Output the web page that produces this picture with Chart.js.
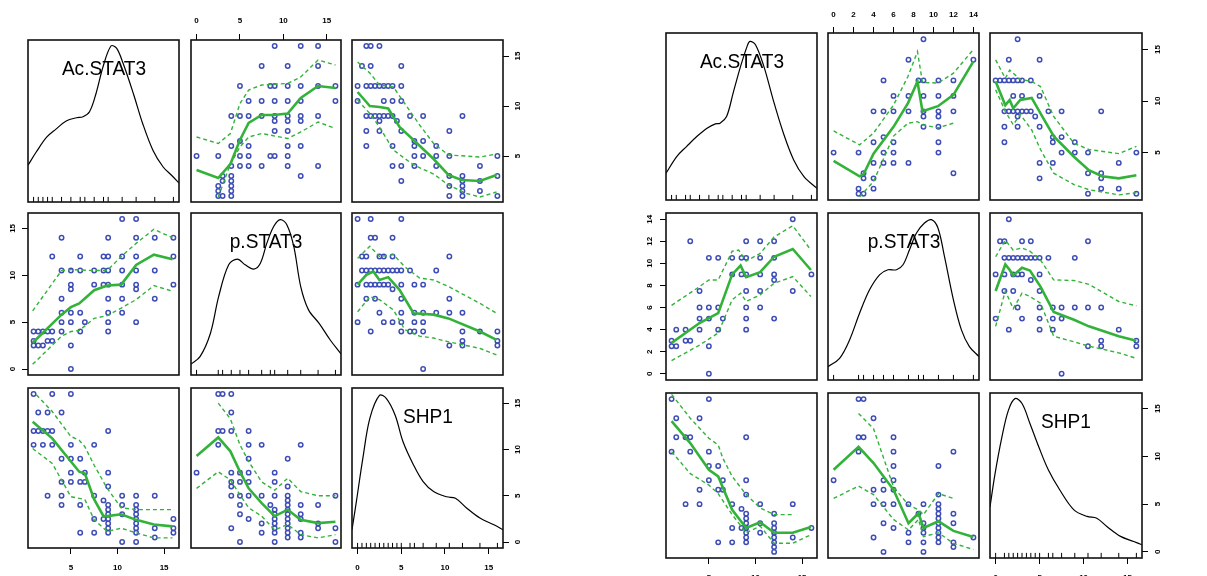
<!DOCTYPE html>
<html>
<head>
<meta charset="utf-8">
<script src="https://cdn.jsdelivr.net/npm/chart.js@4/dist/chart.umd.min.js"></script>
<style>
  html, body { margin: 0; padding: 0; background: #fff; width: 1207px; height: 576px; overflow: hidden; }
  canvas { position: absolute; }
  .lab { position: absolute; font-family: "Liberation Sans", Arial, sans-serif; font-size: 21px; color: #000;
         white-space: nowrap; transform: translate(-50%, -50%) scaleX(0.91); }
</style>
</head>
<body>
<script>
// variable names / labels
const varKeys = ['ac', 'p', 'shp'];
const varLabels = ['Ac.STAT3', 'p.STAT3', 'SHP1'];

// ---------- left matrix ----------
const leftRange = { ac: [0.4, 16.6], p: [-0.64, 16.64], shp: [-0.64, 16.64] };
const leftTicks = { ac: [5, 10, 15], p: [0, 5, 10, 15], shp: [0, 5, 10, 15] };

// [Ac.STAT3, p.STAT3]
const leftAcP = [
  [10.5,16],[12,16],
  [4,14],[9,14],[12,14],[14,14],[16,14],
  [3,12],[6,12],[8.5,12],[9,12],[10.5,12],[12,12],[16,12],
  [4,10.5],[5,10.5],[6,10.5],[7.5,10.5],[8.5,10.5],[9,10.5],[10.5,10.5],[12,10.5],[14,10.5],
  [5,9],[7.5,9],[8.5,9],[9,9],[10.5,9],[12,9],[16,9],
  [5,8.5],[12,8.5],
  [4,7.5],[9,7.5],[10.5,7.5],[14,7.5],
  [4,6],[5,6],[6,6],[9,6],[10.5,6],
  [4,5],[5,5],[6.5,5],[9,5],[12,5],
  [1,4],[1.5,4],[2,4],[2.5,4],[3,4],[4,4],[6,4],[9,4],
  [1,3],[2.5,3],[3,3],
  [1,2.5],[1.5,2.5],[2,2.5],[5,2.5],
  [5,0]
];
// [Ac.STAT3, SHP1]
const leftAcShp = [
  [1,16],[3,16],[5,16],
  [1.5,14],[2.5,14],[4,14],
  [1,12],[1.5,12],[2,12],[2.5,12],[3,12],[9,12],
  [1,10.5],[2,10.5],[3,10.5],[5,10.5],[7.5,10.5],
  [4,9],[5,9],[6,9],
  [5,7.5],[6.5,7.5],[9,7.5],
  [4,6.5],[5,6.5],[6,6.5],[6.5,6.5],
  [9,6],
  [2.5,5],[4,5],[7.5,5],[10.5,5],[12,5],[14,5],
  [8.5,4.5],
  [4,4],[6,4],[9,4],[10.5,4],[12,4],
  [9,3.5],[12,3.5],
  [9,3],[10.5,3],[12,3],
  [7.5,2.5],[8.5,2.5],[9,2.5],[12,2.5],[16,2.5],
  [9,2],[12,2],
  [9,1.5],[12,1.5],[14,1.5],[16,1.5],
  [6,1],[7.5,1],[9,1],[12,1],[16,1],
  [14,0.5],
  [10.5,0],[12,0]
];
// [p.STAT3, SHP1]
const leftPShp = [
  [2.5,16],[3,16],[4,16],
  [4,14],
  [2.5,12],[3,12],[4,12],[6,12],
  [2.5,10.5],[6,10.5],[7.5,10.5],[12,10.5],
  [6,9],[10.5,9],
  [0,7.5],[4,7.5],[5,7.5],[6,7.5],[9,7.5],
  [4,6.5],[5,6.5],[6,6.5],[9,6.5],
  [4,6],[10.5,6],
  [4,5],[5,5],[6,5],[7.5,5],[9,5],[10.5,5],[16,5],
  [10.5,4.5],
  [5,4],[8.5,4],[10.5,4],[12,4],[14,4],
  [9,3.5],[10.5,3.5],
  [5,3],[9,3],[10.5,3],[12,3],
  [6,2.5],[9,2.5],[10.5,2.5],[12,2.5],
  [7.5,2],[9,2],[10.5,2],[14,2],
  [4,1.5],[9,1.5],[10.5,1.5],[14,1.5],[16,1.5],
  [7.5,1],[9,1],[10.5,1],[12,1],
  [10.5,0.5],[12,0.5],
  [5,0],[9,0],[16,0]
];

// smoothers: y on x  (fit = solid, hi / lo = dashed spread)
const leftPonAc = {
  fit: [[0.9,2.8],[4,5.8],[5,6.6],[5.9,7.0],[7.5,8.4],[8.9,8.9],[10.4,9.0],[12,11.1],[13.9,12.2],[15.9,11.7]],
  hi:  [[0.9,6.2],[4,10.5],[5,10.6],[7.5,10.5],[8.9,10.5],[10.4,12.0],[12,13.4],[13.9,14.9],[15.9,14.0]],
  lo:  [[0.9,0.5],[4,3.5],[5,4.0],[5.9,4.1],[7.5,5.4],[8.9,5.7],[10.4,6.5],[12,7.4],[13.9,8.9],[15.9,8.3]]
};
const leftAconP = {
  fit: [[0,3.6],[2.5,2.8],[3.9,4.2],[5,6.6],[6,8.3],[7.5,9.1],[8.9,9.1],[10.5,9.25],[12,10.8],[14,12.0],[16,11.8]],
  hi:  [[0,6.9],[2.5,6.25],[3.9,7.25],[5,10.25],[6,11.6],[7.5,12.1],[10.5,12.25],[12,12.9],[14,14.6],[16,14.1]],
  lo:  [[2.5,0.9],[3.9,4.2],[5,5.9],[6,6.9],[7.5,7.25],[10.5,6.75],[12,7.4],[14,8.4],[16,7.75]]
};
const leftShpOnAc = {
  fit: [[0.9,13.0],[3,11.2],[5,8.7],[5.9,7.6],[6.5,7.4],[7.5,4.6],[8.5,2.8],[8.9,2.8],[10.4,3.0],[12,2.4],[13.9,1.9],[15.9,1.7]],
  hi:  [[1.3,15.9],[3,14.1],[5,11.4],[5.9,11.0],[6.5,10.3],[7.5,8.3],[8.9,5.8],[10.4,3.7],[12,3.5],[13.9,3.5],[15.9,3.5]],
  lo:  [[0.9,10.1],[3,8.5],[5,4.9],[6.5,4.6],[7.5,2.4],[8.9,1.15],[10.4,1.5],[12,1.0],[13.9,0.45],[15.9,0.45]]
};
const leftAcOnShp = {
  fit: [[0,11.4],[1,10.4],[1.4,10.0],[2.5,9.9],[3.5,9.75],[4.8,7.9],[6.4,6.6],[8.7,4.7],[10.4,3.1],[11.9,2.6],[14,2.5],[15.9,3.1]],
  hi:  [[0,14.4],[1.4,13.3],[2.5,12.1],[4.1,11.9],[5.4,10.25],[7.1,8.1],[8.7,6.25],[10.4,5.1],[14,4.9],[15.9,5.2]],
  lo:  [[0,10.6],[1.4,9.25],[2.5,7.9],[4.1,5.6],[6.4,4.1],[8.7,3.2],[10.4,2.1],[12.5,1.25],[14,0.9],[15.9,1.4]]
};
const leftShpOnP = {
  fit: [[0,9.3],[2.5,11.3],[3.9,9.8],[5,7.6],[6,5.8],[7.5,4.2],[9,2.8],[10.5,3.5],[12,2.4],[14,2.05],[16,2.2]],
  hi:  [[2.5,15.0],[3.9,13.3],[5,10.5],[6,8.7],[7.5,6.5],[9,5.6],[10.5,6.9],[12,5.45],[14,5.0],[16,5.0]],
  lo:  [[0,5.8],[2.5,7.6],[3.9,6.7],[5,5.1],[6,3.7],[7.5,2.8],[9,1.3],[10.5,1.9],[12,0.8],[14,0.45],[16,0.8]]
};
const leftPonShp = {
  fit: [[0,9.0],[1,10.05],[1.8,10.4],[2.5,9.5],[3.5,9.8],[4.8,8.45],[6.4,5.95],[8.7,5.8],[10.4,5.4],[14,4.0],[15.9,3.1]],
  hi:  [[0,11.8],[1.4,13.1],[2.5,12.0],[4.1,12.2],[5.4,10.9],[7.1,9.7],[8.7,9.5],[10.4,8.8],[14,7.0],[15.9,5.95]],
  lo:  [[0,6.1],[1.4,7.7],[2.5,7.4],[4.1,6.3],[5.4,4.2],[7.1,3.5],[8.7,3.3],[10.4,2.9],[14,2.2],[15.9,1.5]]
};

// diagonal densities (relative height) and rugs
const leftDensAc = [[0.4,0.227],[1.3,0.31],[2.4,0.40],[3.4,0.45],[4.5,0.50],[5.6,0.52],[6.3,0.526],[7.0,0.557],[7.7,0.67],[8.45,0.835],[9.3,0.963],[9.9,0.95],[10.6,0.856],[11.7,0.67],[12.7,0.485],[13.8,0.32],[14.9,0.216],[15.8,0.165],[16.6,0.117]];
const leftDensP = [[-0.64,0.068],[0.4,0.113],[1.6,0.258],[2.55,0.485],[3.7,0.68],[4.7,0.715],[5.6,0.68],[6.6,0.654],[7.35,0.69],[8.1,0.814],[8.9,0.918],[9.65,0.959],[10.4,0.928],[11.2,0.794],[12,0.546],[12.9,0.402],[14.1,0.32],[15.4,0.216],[16.64,0.13]];
const leftDensShp = [[-0.64,0.114],[-0.14,0.29],[0.6,0.56],[1.4,0.81],[2.5,0.954],[3.3,0.934],[4.3,0.83],[5.2,0.664],[6.4,0.519],[7.5,0.415],[8.7,0.353],[10.2,0.32],[11.2,0.311],[12.5,0.249],[14,0.187],[15.6,0.145],[16.64,0.114]];
const leftRugAc = [1,1.5,2,2.5,3,4,5,6,6.5,7.5,8.5,9,10.5,12,14,16];
const leftRugP = [0,2.5,3,4,5,6,7.5,8.5,9,10.5,12,14,16];
const leftRugShp = [0,0.5,1,1.5,2,2.5,3,3.5,4,4.5,5,6,6.5,7.5,9,10.5,12,14,16];

// ---------- right matrix ----------
const rightRange = { ac: [0.4, 16.6], p: [-0.56, 14.56], shp: [-0.64, 16.64] };
const rightTicks = { ac: [5, 10, 15], p: [0, 2, 4, 6, 8, 10, 12, 14], shp: [0, 5, 10, 15] };

const rightAcP = [
  [14,14],
  [3,12],[9,12],[10.5,12],[12,12],
  [5,10.5],[6,10.5],[7.5,10.5],[8.5,10.5],[9,10.5],[10.5,10.5],[12,10.5],
  [7.5,9],[8.5,9],[9,9],[10.5,9],[12,9],[16,9],
  [12,8.5],
  [4,7.5],[9,7.5],[10.5,7.5],[14,7.5],
  [4,6],[5,6],[6,6],[9,6],[10.5,6],
  [4,5],[5,5],[6.5,5],[9,5],[12,5],
  [1.5,4],[2.5,4],[4,4],[6,4],[9,4],
  [1,3],[2.5,3],[3,3],
  [1,2.5],[1.5,2.5],[5,2.5],
  [5,0]
];
const rightAcShp = [
  [1,16],[5,16],
  [1.5,14],[4,14],
  [1.5,12],[2.5,12],[3,12],[9,12],
  [1,10.5],[3,10.5],[5,10.5],
  [5,9],[6,9],
  [5,7.5],[6.5,7.5],[9,7.5],
  [4,6.5],[6,6.5],[6.5,6.5],
  [9,6],
  [2.5,5],[4,5],[7.5,5],[10.5,5],[14,5],
  [8.5,4.5],
  [9,4],[12,4],
  [9,3.5],
  [9,3],[10.5,3],[12,3],
  [7.5,2.5],[8.5,2.5],[9,2.5],[12,2.5],[16,2.5],
  [9,2],[10.5,2],[12,2],
  [9,1.5],[12,1.5],[14,1.5],
  [6,1],[7.5,1],[9,1],[12,1],
  [12,0.5],
  [12,0]
];
const rightPShp = [
  [2.5,16],[3,16],
  [4,14],
  [2.5,12],[3,12],[6,12],
  [2.5,10.5],[6,10.5],[12,10.5],
  [6,9],[10.5,9],
  [0,7.5],[5,7.5],[6,7.5],
  [4,6.5],[5,6.5],[6,6.5],
  [10.5,6],
  [4,5],[5,5],[6,5],[7.5,5],[9,5],[10.5,5],
  [10.5,4.5],
  [8.5,4],[10.5,4],[12,4],
  [10.5,3.5],
  [5,3],[9,3],[10.5,3],[12,3],
  [6,2.5],[9,2.5],[10.5,2.5],
  [7.5,2],[9,2],[10.5,2],
  [4,1.5],[10.5,1.5],[14,1.5],
  [7.5,1],[9,1],[10.5,1],[12,1],
  [12,0.5],
  [5,0],[9,0]
];

const rightPonAc = {
  fit: [[1,2.8],[4,4.6],[6,5.5],[7.5,9.0],[8.4,9.8],[9,8.75],[10.5,9.2],[12,10.6],[14,11.3],[15.95,9.4]],
  hi:  [[1,6.2],[4,7.9],[5,8.5],[6,8.5],[7.5,11.1],[8.2,11.2],[9,10.2],[10.5,10.9],[12,12.4],[14,13.4],[15.95,11.2]],
  lo:  [[1,1.2],[4,2.6],[6,3.7],[7.5,6.7],[8.4,7.3],[9,6.55],[10.5,7.15],[12,8.2],[14,8.8],[15.95,7.0]]
};
const rightAconP = {
  fit: [[0,4.2],[2.6,2.7],[3,2.9],[4,4.9],[6,7.5],[7.45,9.8],[8.4,11.9],[8.9,9.0],[10.45,9.5],[12,10.6],[14,13.85]],
  hi:  [[0,7.1],[2.6,5.75],[4,6.9],[6,9.6],[7.45,12.4],[8.4,14.8],[8.9,11.8],[10.45,11.75],[12,12.7],[14,15.0]],
  lo:  [[2.6,0.7],[4,2.2],[6,6.6],[7.45,7.85],[8.4,8.0],[8.9,7.7],[10.45,7.4],[12,7.85]]
};
const rightShpOnAc = {
  fit: [[1,13.7],[3,11.4],[5,8.6],[6,7.9],[7.5,4.4],[9,2.5],[10.5,3.1],[12,2.0],[14,2.0],[15.95,2.6]],
  hi:  [[1,16.5],[3,14.0],[5,11.9],[6,11.2],[6.5,9.8],[7.5,7.9],[9,6.0],[10.5,4.6],[12,3.9],[14,3.9]],
  lo:  [[1,10.5],[3,8.2],[5,7.0],[6,6.1],[7.5,3.9],[9,2.0],[10.5,2.7],[12,0.9],[14,0.9],[15.95,1.8]]
};
const rightAcOnShp = {
  fit: [[0,11.9],[1.1,9.6],[1.6,10.1],[2,9.3],[2.8,10.1],[4.1,10.3],[5.1,8.8],[6.6,6.6],[8.9,4.6],[10.6,3.3],[12.1,2.7],[14,2.5],[16,2.8]],
  hi:  [[0,14.0],[1.1,12.2],[1.6,13.0],[2.8,12.1],[4.1,11.9],[5.1,11.4],[6.6,8.5],[8.9,5.9],[10.6,5.3],[14,4.9],[16,5.6]],
  lo:  [[0,11.1],[1.1,9.0],[2,7.7],[2.8,8.7],[4.1,7.2],[5.1,5.3],[6.6,3.0],[8.9,1.9],[10.6,1.4],[14,0.9],[16,1.1]]
};
const rightShpOnP = {
  fit: [[0,8.6],[2.5,11.0],[4,9.3],[6,6.5],[7.5,3.0],[8.5,4.05],[9,2.5],[10.5,3.2],[12,2.2],[14,1.55]],
  hi:  [[2.5,14.5],[4,12.9],[6,6.8],[7.5,4.9],[8.5,4.4],[9,3.9],[10.5,6.1],[12,5.6]],
  lo:  [[0,5.6],[2.5,6.9],[4,6.0],[6,3.4],[7.5,2.3],[8.5,3.4],[9,1.6],[10.5,2.0],[12,0.9],[14,0.25]]
};
const rightPonShp = {
  fit: [[0,7.5],[1.1,9.9],[1.6,9.4],[2,8.9],[3,9.6],[3.9,9.35],[5.1,7.9],[6.6,5.6],[8.9,4.9],[10.6,4.3],[14,3.4],[16,3.0]],
  hi:  [[0,10.6],[1.1,12.1],[2,11.2],[3,11.4],[3.9,11.1],[5.1,10.3],[6.6,8.5],[8.9,8.45],[10.6,8.1],[14,6.55],[16,6.15]],
  lo:  [[0,4.3],[1.1,7.5],[2,5.9],[3,7.3],[3.9,7.0],[5.1,6.4],[6.6,3.4],[8.9,2.9],[10.6,2.5],[14,1.9],[16,1.4]]
};

const rightDensAc = [[0.4,0.16],[1.55,0.26],[2.6,0.32],[3.7,0.38],[4.8,0.43],[5.7,0.456],[6.2,0.46],[6.9,0.5],[7.6,0.64],[8.4,0.8],[9.1,0.92],[9.4,0.95],[10,0.93],[10.9,0.8],[11.9,0.6],[13,0.4],[14.1,0.24],[15.2,0.14],[16.6,0.07]];
const rightDensP = [[-0.56,0.08],[0.6,0.13],[1.6,0.24],[2.6,0.4],[3.6,0.54],[4.6,0.63],[5.45,0.66],[6.3,0.66],[6.95,0.69],[7.6,0.78],[8.3,0.88],[9.1,0.94],[9.8,0.96],[10.45,0.91],[11.1,0.74],[12,0.48],[12.8,0.3],[13.6,0.2],[14.56,0.14]];
const rightDensShp = [[-0.64,0.31],[-0.07,0.51],[0.7,0.73],[1.45,0.895],[2.2,0.966],[3,0.936],[3.9,0.815],[4.9,0.674],[6,0.533],[7.3,0.412],[8.9,0.292],[10.4,0.252],[11.5,0.241],[12.65,0.191],[14.2,0.131],[15.7,0.1],[16.64,0.08]];
const rightRugAc = [1,1.5,2.5,3,4,5,6,6.5,7.5,8.5,9,10.5,12,14,16];
const rightRugP = [0,2.5,3,4,5,6,7.5,8.5,9,10.5,12,14];
const rightRugShp = [0,1,1.5,2,2.5,3,3.5,4,4.5,5,6,6.5,7.5,9,10.5,12,14,16];

// ---------- layout ----------
const AX = 30;   // thickness of an axis band
const PAD = 2;
const ptColor = '#3d4db5';
const green = '#33b23a';

const matrices = [
  {
    range: leftRange, ticks: leftTicks,
    colX: [28, 191, 352], colW: [151, 150, 151], rowY: [40, 213, 388], rowH: [162, 162, 160],
    pad: { top: 8, bottom: 9, left: 5, right: 4 },
    pairs: { 'ac|p': leftAcP, 'ac|shp': leftAcShp, 'p|shp': leftPShp },
    lines: { 'p~ac': leftPonAc, 'ac~p': leftAconP, 'shp~ac': leftShpOnAc, 'ac~shp': leftAcOnShp, 'shp~p': leftShpOnP, 'p~shp': leftPonShp },
    dens: { ac: leftDensAc, p: leftDensP, shp: leftDensShp },
    rug: { ac: leftRugAc, p: leftRugP, shp: leftRugShp }
  },
  {
    range: rightRange, ticks: rightTicks,
    colX: [666, 828, 990], colW: [151, 151, 152], rowY: [33, 213, 393], rowH: [167, 167, 165],
    pad: { top: 7, bottom: 9, left: 6, right: 5 },
    pairs: { 'ac|p': rightAcP, 'ac|shp': rightAcShp, 'p|shp': rightPShp },
    lines: { 'p~ac': rightPonAc, 'ac~p': rightAconP, 'shp~ac': rightShpOnAc, 'ac~shp': rightAcOnShp, 'shp~p': rightShpOnP, 'p~shp': rightPonShp },
    dens: { ac: rightDensAc, p: rightDensP, shp: rightDensShp },
    rug: { ac: rightRugAc, p: rightRugP, shp: rightRugShp }
  }
];

const boxPlugin = {
  id: 'box',
  afterDraw(chart) {
    const { ctx, chartArea: a } = chart;
    ctx.save();
    ctx.strokeStyle = '#111';
    ctx.lineWidth = 1.6;
    ctx.strokeRect(a.left, a.top, a.right - a.left, a.bottom - a.top);
    ctx.restore();
  }
};

const toXY = arr => arr.map(d => ({ x: d[0], y: d[1] }));

function axis(m, v, pos, show) {
  const isY = pos === 'left' || pos === 'right';
  return {
    type: 'linear', position: pos, display: show,
    min: m.range[v][0], max: m.range[v][1],
    afterBuildTicks: s => { s.ticks = m.ticks[v].map(t => ({ value: t })); },
    afterFit: s => {
      if (show) { if (isY) s.width = AX; else s.height = AX; }
      // keep the plot box at its fixed size: no extra room for end labels
      s.paddingTop = s.paddingBottom = s.paddingLeft = s.paddingRight = 0;
    },
    grid: { display: true, drawOnChartArea: false, drawTicks: true, tickLength: 6, color: '#000', lineWidth: 1 },
    border: { display: false },
    ticks: {
      color: '#000', padding: m.pad[pos],
      font: { family: "'Liberation Sans', Arial, sans-serif", size: 8, weight: 'bold' },
      minRotation: isY ? 90 : 0, maxRotation: isY ? 90 : 0,
      crossAlign: isY ? 'center' : 'near'
    }
  };
}

function lineSet(data, solid) {
  return {
    type: 'scatter', data: toXY(data), showLine: true, pointRadius: 0,
    borderColor: green, borderWidth: solid ? 2.6 : 1.4, borderDash: solid ? [] : [4, 3],
    tension: 0, fill: false
  };
}

function makePanel(m, r, c) {
  const xv = varKeys[c], yv = varKeys[r];
  const left = m.colX[c], top = m.rowY[r], w = m.colW[c], h = m.rowH[r];
  const hasTop = r === 0 && c === 1, hasBottom = r === 2 && c !== 1;
  const hasLeft = c === 0 && r === 1, hasRight = c === 2 && r !== 1;
  const pl = hasLeft ? AX : PAD, pr = hasRight ? AX : PAD, pt = hasTop ? AX : PAD, pb = hasBottom ? AX : PAD;

  const cv = document.createElement('canvas');
  cv.width = w + pl + pr; cv.height = h + pt + pb;
  cv.style.left = (left - pl) + 'px'; cv.style.top = (top - pt) + 'px';
  cv.style.width = cv.width + 'px'; cv.style.height = cv.height + 'px';
  document.body.appendChild(cv);

  const xPos = hasTop ? 'top' : 'bottom';
  const yPos = hasLeft ? 'left' : 'right';
  const scales = { x: axis(m, xv, xPos, hasTop || hasBottom) };
  let datasets;

  if (r === c) {
    scales.y = { type: 'linear', display: false, min: 0, max: 1 };
    scales.yv = axis(m, yv, yPos, hasLeft || hasRight);
    const rugY = 2.5 / h;
    datasets = [
      { type: 'scatter', data: toXY(m.dens[xv]), showLine: true, pointRadius: 0, borderColor: '#000',
        borderWidth: 1.2, tension: 0.35, yAxisID: 'y' },
      { type: 'scatter', data: m.rug[xv].map(v => ({ x: v, y: rugY })), pointStyle: 'line', rotation: 90,
        pointRadius: 2.6, borderColor: '#000', borderWidth: 1, yAxisID: 'y' }
    ];
    const lab = document.createElement('div');
    lab.className = 'lab';
    lab.textContent = varLabels[c];
    lab.style.left = (left + w / 2) + 'px';
    lab.style.top = (top + 28) + 'px';
    document.body.appendChild(lab);
  } else {
    scales.y = axis(m, yv, yPos, hasLeft || hasRight);
    const direct = m.pairs[xv + '|' + yv];
    const pts = direct ? direct : m.pairs[yv + '|' + xv].map(d => [d[1], d[0]]);
    const ln = m.lines[yv + '~' + xv];
    datasets = [
      lineSet(ln.hi, false), lineSet(ln.lo, false), lineSet(ln.fit, true),
      { type: 'scatter', data: toXY(pts), pointStyle: 'circle', pointRadius: 2.2, borderWidth: 1.5,
        borderColor: ptColor, backgroundColor: 'rgba(0,0,0,0)' }
    ];
  }

  new Chart(cv, {
    type: 'scatter',
    data: { datasets },
    options: {
      responsive: false, animation: false, events: [],
      layout: { autoPadding: false,
        padding: { left: hasLeft ? 0 : PAD, right: hasRight ? 0 : PAD, top: hasTop ? 0 : PAD, bottom: hasBottom ? 0 : PAD } },
      plugins: { legend: { display: false }, tooltip: { enabled: false } },
      scales
    },
    plugins: [boxPlugin]
  });
}

matrices.forEach(m => {
  for (let r = 0; r < 3; r++) for (let c = 0; c < 3; c++) makePanel(m, r, c);
});
</script>
</body>
</html>
